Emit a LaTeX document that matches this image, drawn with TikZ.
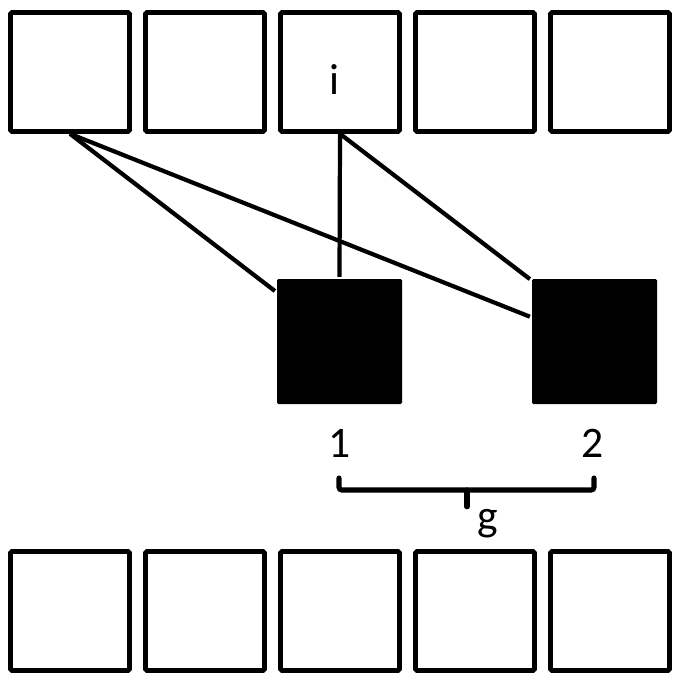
\documentclass[tikz,border=0pt]{standalone}
\usepackage{fontspec}
\setmainfont{Carlito}
\usetikzlibrary{calc, positioning}

\begin{document}
\begin{tikzpicture}[-,auto,node distance=3.375cm,line width=3pt,
                    cell/.style={rectangle,draw,line width=3.3pt,rounded corners=1pt,minimum size=2.975cm,inner sep=0pt},
                    black node/.style={rectangle,fill=black,rounded corners=1pt,minimum size=3.125cm,inner sep=0pt},
                    lbl/.style={inner sep=0pt,font=\fontsize{31}{36}\selectfont}]

  \useasboundingbox (0,0) rectangle (16.9,-17.15);

  % top row
  \node[cell] (1) at (1.75,-1.8) {};
  \node[cell] (2) [right of=1] {};
  \node[cell] (3) [right of=2] {};
  \node[cell] (4) [right of=3] {};
  \node[cell] (5) [right of=4] {};

  % bottom row
  \node[cell] (8) at (1.75,-15.275) {};
  \node[cell] (9) [right of=8] {};
  \node[cell] (10) [right of=9] {};
  \node[cell] (11) [right of=10] {};
  \node[cell] (12) [right of=11] {};

  % filled ones
  \node[black node] (6) at (8.4875,-8.5375) {};
  \node[black node] (7) [right of=6,node distance=6.375cm] {};

  \node[lbl] (i) at ($(3)+(-0.15,-0.2)$) {i};
  \node[lbl] (13) [below=0.525cm of 6] {1};
  \node[lbl] (14) [below=0.525cm of 7,xshift=-0.06cm] {2};

  \path
    (1.south) edge (6.142)
              edge (7.159)
    (3.south) edge (6.north)
              edge (7.136);

  % brace
  \coordinate (15) at (8.475,-11.95);
  \coordinate (16) at (14.85,-11.95);
  \coordinate (17) at (11.675,-12.25);
  \draw[line width=3.6pt,line cap=round,rounded corners=2pt] (15) -- ++(0,-0.3) -| (16);
  \draw[line width=3.6pt,line cap=round] (17) -- ++(0,-0.42);
  \node[lbl,anchor=north] (g) at (12.2,-12.675) {g};

\end{tikzpicture}
\end{document}
